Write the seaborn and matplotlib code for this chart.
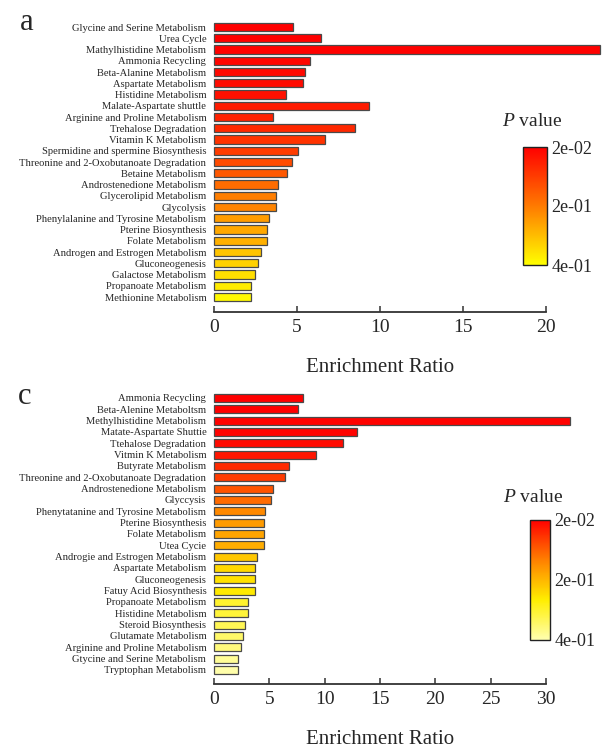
import numpy as np
import matplotlib
matplotlib.use("Agg")
import matplotlib.pyplot as plt
from matplotlib.colors import LinearSegmentedColormap, TwoSlopeNorm
from matplotlib.cm import ScalarMappable
import seaborn as sns

sns.set_theme(style="white")
plt.rcParams["font.family"] = ["Liberation Serif", "DejaVu Serif"]
plt.rcParams["mathtext.fontset"] = "custom"
plt.rcParams["mathtext.rm"] = "Liberation Serif"
plt.rcParams["mathtext.it"] = "Liberation Serif:italic"

# ---- panel a: metabolite set enrichment ----
names_a = [
    "Glycine and Serine Metabolism", "Urea Cycle", "Mathylhistidine Metabolism",
    "Ammonia Recycling", "Beta-Alanine Metabolism", "Aspartate Metabolism",
    "Histidine Metabolism", "Malate-Aspartate shuttle", "Arginine and Proline Metabolism",
    "Trehalose Degradation", "Vitamin K Metabolism", "Spermidine and spermine Biosynthesis",
    "Threonine and 2-Oxobutanoate Degradation", "Betaine Metabolism",
    "Androstenedione Metabolism", "Glycerolipid Metabolism", "Glycolysis",
    "Phenylalanine and Tyrosine Metabolism", "Pterine Biosynthesis", "Folate Metabolism",
    "Androgen and Estrogen Metabolism", "Gluconeogenesis", "Galactose Metabolism",
    "Propanoate Metabolism", "Methionine Metabolism",
]
ratio_a = [4.78, 6.43, 23.25, 5.78, 5.50, 5.34, 4.34, 9.34, 3.55, 8.50, 6.69, 5.08,
           4.68, 4.42, 3.87, 3.73, 3.73, 3.33, 3.21, 3.21, 2.81, 2.67, 2.47, 2.21, 2.21]
pval_a = [0.020, 0.021, 0.022, 0.028, 0.033, 0.038, 0.045, 0.060, 0.070, 0.080,
          0.095, 0.110, 0.130, 0.150, 0.180, 0.205, 0.215, 0.250, 0.270, 0.280,
          0.310, 0.330, 0.350, 0.370, 0.390]

# ---- panel c ----
names_c = [
    "Ammonia Recycling", "Beta-Alenine Metaboltsm", "Methylhistidine Metabolism",
    "Matate-Aspartate Shuttie", "Ttehalose Degradation", "Vitmin K Metabolism",
    "Butyrate Metabolism", "Threonine and 2-Oxobutanoate Degradation",
    "Androstenedione Metabolism", "Glyccysis", "Phenytatanine and Tyrosine Metabolism",
    "Pterine Biosynthesis", "Folate Metabolism", "Utea Cycie",
    "Androgie and Estrogen Metabolism", "Aspartate Metabolism", "Gluconeogenesis",
    "Fatuy Acid Biosynthesis", "Propanoate Metabolism", "Histidine Metabolism",
    "Steroid Biosynthesis", "Glutamate Metabolism", "Arginine and Proline Metabolism",
    "Gtycine and Serine Metabolism", "Tryptophan Metabolism",
]
ratio_c = [8.08, 7.57, 32.2, 12.9, 11.7, 9.2, 6.75, 6.42, 5.36, 5.18, 4.61, 4.52,
           4.52, 4.52, 3.92, 3.71, 3.71, 3.71, 3.05, 3.05, 2.80, 2.65, 2.44, 2.20, 2.20]
pval_c = [0.020, 0.021, 0.022, 0.024, 0.030, 0.040, 0.060, 0.075, 0.100, 0.120,
          0.150, 0.170, 0.180, 0.190, 0.220, 0.240, 0.250, 0.260, 0.300, 0.310,
          0.330, 0.345, 0.360, 0.380, 0.395]

p_ticks = [0.02, 0.2, 0.4]
p_tick_labels = ["2e-02", "2e-01", "4e-01"]

W, H = 603, 748
fig = plt.figure(figsize=(W / 100, H / 100), dpi=100)


def px_axes(left, top, right, bottom):
    return fig.add_axes([left / W, 1 - bottom / H, (right - left) / W, (bottom - top) / H])


def panel(names, ratios, pvals, cmap, xmax, box, ybottom, cbox, title_xy, letter, letter_xy):
    norm = TwoSlopeNorm(vmin=0.02, vcenter=0.2, vmax=0.4)
    colors = [cmap(norm(p)) for p in pvals]
    ax = px_axes(*box)
    sns.barplot(x=ratios, y=names, hue=names, palette=colors, legend=False,
                orient="h", width=0.72, saturation=1, ax=ax,
                edgecolor="#4a4a4a", linewidth=0.9)
    for patch in ax.patches:
        patch.set_clip_on(False)
    ax.set_xlim(0, xmax)
    ax.set_ylim(ybottom, -0.5)
    sns.despine(ax=ax, left=True, top=True, right=True)
    ax.spines["bottom"].set_color("#333333")
    ax.spines["bottom"].set_linewidth(1.3)
    ax.set_xticks(np.arange(0, xmax + 1, 5))
    ax.tick_params(axis="x", direction="in", length=4.5, width=1.1, color="#333333",
                   labelsize=14, pad=5, bottom=True)
    ax.tick_params(axis="y", length=0, labelsize=7.6, pad=5.5)
    ax.set_ylabel("")
    ax.set_xlabel("Enrichment Ratio", fontsize=15, labelpad=16)
    ax.grid(False)

    cax = px_axes(*cbox)
    sm = ScalarMappable(norm=norm, cmap=cmap)
    cb = fig.colorbar(sm, cax=cax)
    cb.set_ticks(p_ticks)
    cb.set_ticklabels(p_tick_labels)
    cb.ax.invert_yaxis()
    cb.ax.tick_params(length=0, labelsize=13, pad=3)
    cb.outline.set_edgecolor("#222222")
    cb.outline.set_linewidth(1.0)
    fig.text(title_xy[0] / W, 1 - title_xy[1] / H, r"$P$ value", fontsize=14,
             ha="center", va="center")
    fig.text(letter_xy[0] / W, 1 - letter_xy[1] / H, letter, fontsize=22,
             ha="center", va="center")
    return ax


cmap_a = LinearSegmentedColormap.from_list("p_a", ["#ff0000", "#ff7a00", "#ffff00"])
cmap_c = LinearSegmentedColormap.from_list("p_c", ["#ff0000", "#ff8000", "#ffee00", "#ffffb0"])

panel(names_a, ratio_a, pval_a, cmap_a, 20, (214, 21.4, 546, 312), 25.33,
      (523, 147, 547, 265), (532, 122), "a", (27, 22))
panel(names_c, ratio_c, pval_c, cmap_c, 30, (214, 392.3, 546, 684), 25.24,
      (530, 520, 550, 640), (533, 497), "c", (25, 396))

fig.savefig("out.png", dpi=100)
